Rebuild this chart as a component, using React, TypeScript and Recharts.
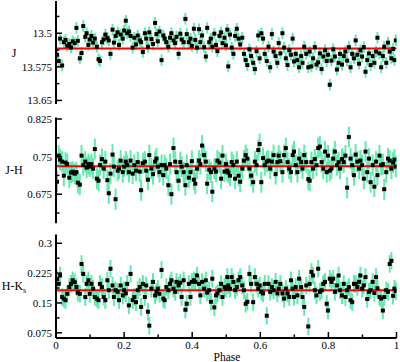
import { ErrorBar, ReferenceLine, Scatter, ScatterChart, XAxis, YAxis } from "recharts";

// phase of each observation (shared by the three panels)
const phase = [
  0.003, 0.008, 0.012, 0.018, 0.023, 0.028, 0.033, 0.039, 0.044, 0.049, 0.055, 0.06, 0.064, 0.07, 0.075, 0.08, 0.086, 0.09, 0.095, 0.099,
  0.104, 0.109, 0.114, 0.12, 0.125, 0.129, 0.135, 0.14, 0.145, 0.151, 0.155, 0.16, 0.166, 0.17, 0.175, 0.181, 0.185, 0.19, 0.196, 0.2,
  0.205, 0.209, 0.214, 0.219, 0.225, 0.23, 0.235, 0.24, 0.246, 0.25, 0.255, 0.261, 0.265, 0.27, 0.274, 0.28, 0.285, 0.291, 0.295, 0.299,
  0.304, 0.31, 0.315, 0.319, 0.324, 0.33, 0.335, 0.339, 0.345, 0.35, 0.354, 0.36, 0.365, 0.369, 0.375, 0.38, 0.384, 0.39, 0.395, 0.399,
  0.405, 0.409, 0.414, 0.42, 0.424, 0.429, 0.435, 0.44, 0.444, 0.45, 0.455, 0.459, 0.465, 0.47, 0.474, 0.48, 0.485, 0.489, 0.495, 0.499,
  0.503, 0.506, 0.511, 0.516, 0.521, 0.526, 0.531, 0.536, 0.541, 0.547, 0.552, 0.557, 0.562, 0.568, 0.573, 0.579, 0.584, 0.589, 0.594, 0.598,
  0.603, 0.608, 0.613, 0.619, 0.624, 0.629, 0.634, 0.639, 0.645, 0.65, 0.654, 0.659, 0.665, 0.67, 0.675, 0.68, 0.685, 0.69, 0.695, 0.699,
  0.704, 0.709, 0.714, 0.72, 0.724, 0.729, 0.735, 0.741, 0.745, 0.75, 0.755, 0.76, 0.765, 0.77, 0.775, 0.78, 0.785, 0.79, 0.795, 0.799,
  0.804, 0.809, 0.814, 0.819, 0.825, 0.83, 0.834, 0.84, 0.845, 0.85, 0.855, 0.86, 0.865, 0.87, 0.875, 0.88, 0.885, 0.89, 0.894, 0.899,
  0.904, 0.909, 0.914, 0.919, 0.924, 0.93, 0.935, 0.94, 0.944, 0.95, 0.955, 0.96, 0.964, 0.97, 0.975, 0.98, 0.985, 0.99, 0.994, 0.998,
];

const jMag = [
  13.548, 13.562, 13.512, 13.572, 13.52, 13.515, 13.528, 13.524, 13.532, 13.518, 13.522, 13.488, 13.517, 13.556, 13.544, 13.484, 13.508, 13.5, 13.526, 13.514,
  13.506, 13.521, 13.512, 13.53, 13.558, 13.562, 13.52, 13.514, 13.503, 13.511, 13.516, 13.546, 13.492, 13.521, 13.506, 13.498, 13.526, 13.503, 13.512, 13.494,
  13.472, 13.5, 13.496, 13.506, 13.532, 13.51, 13.525, 13.505, 13.516, 13.52, 13.542, 13.5, 13.512, 13.53, 13.498, 13.513, 13.524, 13.477, 13.502, 13.518,
  13.496, 13.56, 13.505, 13.512, 13.52, 13.53, 13.51, 13.5, 13.516, 13.522, 13.508, 13.546, 13.501, 13.514, 13.52, 13.468, 13.502, 13.52, 13.512, 13.528,
  13.49, 13.515, 13.532, 13.491, 13.52, 13.505, 13.531, 13.552, 13.488, 13.52, 13.512, 13.53, 13.501, 13.526, 13.54, 13.506, 13.498, 13.522, 13.51, 13.527,
  13.492, 13.574, 13.503, 13.532, 13.546, 13.506, 13.49, 13.512, 13.525, 13.51, 13.546, 13.56, 13.571, 13.536, 13.551, 13.566, 13.58, 13.54, 13.505, 13.556,
  13.5, 13.512, 13.546, 13.562, 13.53, 13.576, 13.502, 13.541, 13.551, 13.566, 13.522, 13.545, 13.5, 13.532, 13.556, 13.571, 13.538, 13.548, 13.512, 13.563,
  13.546, 13.56, 13.576, 13.551, 13.566, 13.53, 13.546, 13.576, 13.541, 13.574, 13.556, 13.531, 13.57, 13.565, 13.545, 13.58, 13.552, 13.538, 13.562, 13.548,
  13.615, 13.561, 13.536, 13.552, 13.581, 13.566, 13.546, 13.57, 13.551, 13.541, 13.561, 13.531, 13.576, 13.546, 13.556, 13.516, 13.548, 13.568, 13.538, 13.552,
  13.531, 13.586, 13.56, 13.545, 13.571, 13.551, 13.566, 13.541, 13.51, 13.545, 13.576, 13.551, 13.53, 13.566, 13.521, 13.541, 13.556, 13.535, 13.56, 13.516,
];

const jhColor = [
  0.7, 0.752, 0.744, 0.74, 0.712, 0.738, 0.735, 0.708, 0.718, 0.72, 0.716, 0.719, 0.698, 0.694, 0.752, 0.733, 0.74, 0.728, 0.735, 0.73,
  0.735, 0.726, 0.765, 0.706, 0.702, 0.733, 0.745, 0.726, 0.74, 0.703, 0.677, 0.716, 0.754, 0.73, 0.665, 0.722, 0.726, 0.742, 0.719, 0.73,
  0.74, 0.733, 0.719, 0.742, 0.716, 0.733, 0.722, 0.739, 0.72, 0.683, 0.737, 0.74, 0.722, 0.704, 0.753, 0.726, 0.715, 0.74, 0.746, 0.73,
  0.719, 0.733, 0.713, 0.733, 0.726, 0.693, 0.735, 0.675, 0.767, 0.74, 0.719, 0.702, 0.739, 0.73, 0.719, 0.693, 0.733, 0.708, 0.719, 0.741,
  0.704, 0.696, 0.726, 0.742, 0.735, 0.772, 0.753, 0.74, 0.696, 0.724, 0.719, 0.68, 0.726, 0.72, 0.742, 0.738, 0.706, 0.752, 0.72, 0.735,
  0.722, 0.718, 0.712, 0.739, 0.733, 0.706, 0.74, 0.712, 0.7, 0.726, 0.742, 0.753, 0.746, 0.726, 0.712, 0.699, 0.74, 0.733, 0.763, 0.775,
  0.699, 0.747, 0.733, 0.74, 0.742, 0.726, 0.74, 0.753, 0.715, 0.739, 0.752, 0.741, 0.719, 0.753, 0.767, 0.739, 0.726, 0.719, 0.753, 0.76,
  0.733, 0.719, 0.746, 0.739, 0.726, 0.753, 0.739, 0.705, 0.702, 0.739, 0.726, 0.745, 0.733, 0.767, 0.77, 0.739, 0.726, 0.76, 0.719, 0.752,
  0.722, 0.726, 0.746, 0.76, 0.733, 0.739, 0.726, 0.745, 0.739, 0.752, 0.688, 0.789, 0.746, 0.733, 0.713, 0.754, 0.74, 0.726, 0.742, 0.733,
  0.706, 0.76, 0.719, 0.746, 0.699, 0.733, 0.69, 0.74, 0.713, 0.752, 0.733, 0.735, 0.685, 0.719, 0.746, 0.742, 0.726, 0.738, 0.744, 0.73,
];

const hkColor = [
  0.21, 0.198, 0.219, 0.165, 0.161, 0.157, 0.173, 0.19, 0.198, 0.207, 0.202, 0.19, 0.176, 0.173, 0.248, 0.223, 0.165, 0.198, 0.207, 0.173,
  0.198, 0.186, 0.165, 0.161, 0.157, 0.198, 0.19, 0.165, 0.157, 0.207, 0.182, 0.236, 0.194, 0.165, 0.182, 0.178, 0.157, 0.194, 0.169, 0.182,
  0.174, 0.198, 0.144, 0.223, 0.157, 0.165, 0.152, 0.182, 0.19, 0.14, 0.198, 0.165, 0.194, 0.128, 0.093, 0.186, 0.203, 0.169, 0.178, 0.186,
  0.173, 0.233, 0.161, 0.157, 0.19, 0.182, 0.198, 0.207, 0.186, 0.178, 0.203, 0.194, 0.201, 0.165, 0.207, 0.133, 0.148, 0.198, 0.165, 0.203,
  0.207, 0.203, 0.219, 0.198, 0.169, 0.203, 0.186, 0.207, 0.176, 0.182, 0.153, 0.211, 0.139, 0.169, 0.174, 0.182, 0.198, 0.165, 0.19, 0.186,
  0.215, 0.194, 0.186, 0.215, 0.203, 0.182, 0.19, 0.207, 0.215, 0.194, 0.182, 0.148, 0.153, 0.223, 0.198, 0.152, 0.215, 0.198, 0.186, 0.194,
  0.178, 0.174, 0.198, 0.118, 0.198, 0.178, 0.19, 0.182, 0.203, 0.174, 0.186, 0.198, 0.174, 0.161, 0.186, 0.174, 0.165, 0.207, 0.186, 0.165,
  0.19, 0.169, 0.211, 0.19, 0.165, 0.14, 0.194, 0.091, 0.198, 0.228, 0.219, 0.182, 0.169, 0.236, 0.178, 0.182, 0.198, 0.203, 0.148, 0.131,
  0.211, 0.203, 0.211, 0.178, 0.194, 0.219, 0.182, 0.169, 0.198, 0.165, 0.182, 0.19, 0.157, 0.152, 0.198, 0.198, 0.19, 0.203, 0.219, 0.186,
  0.194, 0.215, 0.16, 0.178, 0.182, 0.203, 0.175, 0.215, 0.187, 0.165, 0.161, 0.131, 0.165, 0.182, 0.178, 0.248, 0.256, 0.168, 0.186, 0.18,
];

const jErr = 0.013;
const jhErr = 0.021;
const hkErr = 0.022;

// weighted means (red lines)
const jMean = 13.534;
const jhMean = 0.731;
const hkMean = 0.182;

const phaseTicks = [0, 0.1, 0.2, 0.3, 0.4, 0.5, 0.6, 0.7, 0.8, 0.9, 1];
const phaseMajor = [0, 0.2, 0.4, 0.6, 0.8, 1];
const jTicks = [13.4625, 13.5, 13.5375, 13.575, 13.6125, 13.65];
const jMajor = [13.5, 13.575, 13.65];
const jhTicks = [0.6375, 0.675, 0.7125, 0.75, 0.7875, 0.825];
const jhMajor = [0.675, 0.75, 0.825];
const hkTicks = [0.075, 0.1125, 0.15, 0.1875, 0.225, 0.2625, 0.3];
const hkMajor = [0.075, 0.15, 0.225, 0.3];

const SERIF = "'Liberation Serif', 'DejaVu Serif', 'Times New Roman', serif";
const TXT = { fontFamily: SERIF };
const FRAME = { stroke: "#000", strokeWidth: 2 };
const BAR = "#62e9ad";

const isMajor = (v: number, majors: number[]) => majors.some((m) => Math.abs(m - v) < 1e-6);

function Square(props: any) {
  const { cx, cy } = props;
  return <rect x={cx - 2} y={cy - 2} width={4} height={4} fill="#000" />;
}

function Panel({
  top,
  height,
  margin,
  values,
  err,
  domain,
  ticks,
  majors,
  reversed,
  mean,
  label,
  showPhase,
}: {
  top: number;
  height: number;
  margin: { top: number; right: number; bottom: number; left: number };
  values: number[];
  err: number;
  domain: [number, number];
  ticks: number[];
  majors: number[];
  reversed?: boolean;
  mean: number;
  label: React.ReactNode;
  showPhase?: boolean;
}) {
  const data = phase.map((p, i) => ({ phase: p, v: values[i], err }));
  const xh = showPhase ? 24 : 0;
  const midY = (margin.top + height - margin.bottom - xh) / 2;
  const len = (major: boolean) => (major ? 6 : 3.5);

  return (
    <div style={{ position: "absolute", left: 0, top }}>
      <ScatterChart width={400} height={height} margin={margin}>
        <XAxis
          xAxisId="b"
          type="number"
          dataKey="phase"
          domain={[0, 1]}
          allowDataOverflow
          ticks={phaseTicks}
          interval={0}
          height={xh}
          tickSize={0}
          tickMargin={0}
          tickLine={false}
          axisLine={FRAME}
          tick={(p: any) => {
            const major = isMajor(p.payload.value, phaseMajor);
            return (
              <g>
                <line x1={p.x} x2={p.x} y1={p.y} y2={p.y - len(major)} stroke="#000" strokeWidth={1.5} />
                {showPhase && major && (
                  <text x={p.x} y={p.y + 11} textAnchor="middle" style={TXT} fontSize={11} fill="#000">
                    {String(p.payload.value)}
                  </text>
                )}
              </g>
            );
          }}
          label={
            showPhase
              ? {
                  content: () => (
                    <text x={227} y={131} textAnchor="middle" style={TXT} fontSize={11.5} fill="#000">
                      Phase
                    </text>
                  ),
                }
              : undefined
          }
        />
        <XAxis
          xAxisId="t"
          orientation="top"
          type="number"
          domain={[0, 1]}
          allowDataOverflow
          ticks={phaseTicks}
          interval={0}
          height={0}
          tickSize={0}
          tickMargin={0}
          tickLine={false}
          axisLine={FRAME}
          tick={(p: any) => {
            const major = isMajor(p.payload.value, phaseMajor);
            return <line x1={p.x} x2={p.x} y1={p.y} y2={p.y + len(major)} stroke="#000" strokeWidth={1.5} />;
          }}
        />
        <YAxis
          yAxisId="l"
          type="number"
          dataKey="v"
          domain={domain}
          allowDataOverflow
          reversed={reversed}
          ticks={ticks}
          interval={0}
          width={56}
          tickSize={0}
          tickMargin={0}
          tickLine={false}
          axisLine={FRAME}
          tick={(p: any) => {
            const major = isMajor(p.payload.value, majors);
            return (
              <g>
                <line x1={p.x} x2={p.x + len(major)} y1={p.y} y2={p.y} stroke="#000" strokeWidth={1.5} />
                {major && (
                  <text x={p.x - 4} y={p.y + 4} textAnchor="end" style={TXT} fontSize={11} fill="#000">
                    {String(p.payload.value)}
                  </text>
                )}
              </g>
            );
          }}
          label={{
            content: () => (
              <text x={14} y={midY + 4} textAnchor="middle" style={TXT} fontSize={12} fill="#000">
                {label}
              </text>
            ),
          }}
        />
        <YAxis
          yAxisId="r"
          orientation="right"
          type="number"
          domain={domain}
          allowDataOverflow
          reversed={reversed}
          ticks={ticks}
          interval={0}
          width={0}
          tickSize={0}
          tickMargin={0}
          tickLine={false}
          axisLine={FRAME}
          tick={(p: any) => {
            const major = isMajor(p.payload.value, majors);
            return <line x1={p.x} x2={p.x - len(major)} y1={p.y} y2={p.y} stroke="#000" strokeWidth={1.5} />;
          }}
        />
        <Scatter xAxisId="b" yAxisId="l" data={data} shape={Square} isAnimationActive={false}>
          <ErrorBar dataKey="err" direction="y" width={0} stroke={BAR} strokeWidth={2} isAnimationActive={false} />
        </Scatter>
        <ReferenceLine xAxisId="b" yAxisId="l" y={mean} stroke="#ff0000" strokeWidth={2} />
      </ScatterChart>
    </div>
  );
}

export default function App() {
  return (
    <div style={{ position: "absolute", left: 0, top: 0, width: 400, height: 362, background: "#fff", overflow: "hidden" }}>
      <Panel
        top={0}
        height={106}
        margin={{ top: 1, right: 3.5, bottom: 2, left: 0 }}
        values={jMag}
        err={jErr}
        domain={[13.428, 13.658]}
        ticks={jTicks}
        majors={jMajor}
        reversed
        mean={jMean}
        label="J"
      />
      <Panel
        top={108}
        height={117}
        margin={{ top: 9.5, right: 3.5, bottom: 1.7, left: 0 }}
        values={jhColor}
        err={jhErr}
        domain={[0.617, 0.828]}
        ticks={jhTicks}
        majors={jhMajor}
        mean={jhMean}
        label="J-H"
      />
      <Panel
        top={230}
        height={132}
        margin={{ top: 4.5, right: 3.5, bottom: 0, left: 0 }}
        values={hkColor}
        err={hkErr}
        domain={[0.062, 0.322]}
        ticks={hkTicks}
        majors={hkMajor}
        mean={hkMean}
        label={
          <>
            H-K
            <tspan fontSize={8} dy={3}>
              s
            </tspan>
          </>
        }
        showPhase
      />
    </div>
  );
}
